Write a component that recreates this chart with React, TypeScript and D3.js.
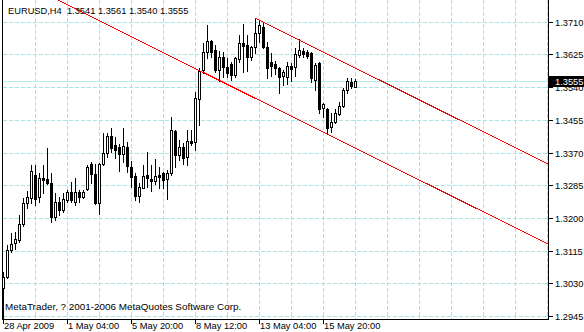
import React from "react";
import * as d3 from "d3";

const opens = [
  1.3017, 1.3046, 1.3117, 1.3134, 1.3143, 1.3184, 1.3240, 1.3251, 1.3312, 1.3255,
  1.3303, 1.3300, 1.3290, 1.3203, 1.3242, 1.3221, 1.3247, 1.3268, 1.3242, 1.3268,
  1.3255, 1.3274, 1.3339, 1.3314, 1.3240, 1.3339, 1.3368, 1.3413, 1.3390, 1.3383,
  1.3365, 1.3384, 1.3333, 1.3310, 1.3258, 1.3279, 1.3312, 1.3301, 1.3297, 1.3312,
  1.3316, 1.3301, 1.3316, 1.3426, 1.3364, 1.3383, 1.3359, 1.3400, 1.3398, 1.3508,
  1.3585, 1.3631, 1.3660, 1.3637, 1.3585, 1.3619, 1.3593, 1.3599, 1.3572, 1.3612,
  1.3654, 1.3650, 1.3617, 1.3643, 1.3680, 1.3697, 1.3645, 1.3604, 1.3599, 1.3589,
  1.3568, 1.3567, 1.3594, 1.3593, 1.3623, 1.3635, 1.3630, 1.3629, 1.3558, 1.3602,
  1.3485, 1.3482, 1.3437, 1.3450, 1.3470, 1.3490, 1.3532, 1.3554, 1.3541,
];
const highs = [
  1.3060, 1.3130, 1.3161, 1.3164, 1.3208, 1.3252, 1.3271, 1.3337, 1.3338, 1.3316,
  1.3338, 1.3381, 1.3318, 1.3264, 1.3255, 1.3264, 1.3273, 1.3294, 1.3303, 1.3273,
  1.3273, 1.3338, 1.3345, 1.3340, 1.3342, 1.3420, 1.3420, 1.3433, 1.3411, 1.3391,
  1.3433, 1.3397, 1.3348, 1.3316, 1.3290, 1.3338, 1.3372, 1.3338, 1.3353, 1.3333,
  1.3320, 1.3325, 1.3463, 1.3429, 1.3403, 1.3394, 1.3429, 1.3429, 1.3527, 1.3589,
  1.3654, 1.3702, 1.3663, 1.3650, 1.3634, 1.3632, 1.3615, 1.3606, 1.3619, 1.3676,
  1.3703, 1.3676, 1.3648, 1.3719, 1.3715, 1.3706, 1.3657, 1.3628, 1.3607, 1.3593,
  1.3584, 1.3606, 1.3603, 1.3641, 1.3664, 1.3641, 1.3636, 1.3632, 1.3602, 1.3606,
  1.3499, 1.3485, 1.3472, 1.3482, 1.3502, 1.3537, 1.3563, 1.3563, 1.3561,
];
const lows = [
  1.2929, 1.3044, 1.3112, 1.3119, 1.3138, 1.3178, 1.3226, 1.3239, 1.3234, 1.3242,
  1.3264, 1.3289, 1.3190, 1.3195, 1.3208, 1.3216, 1.3242, 1.3242, 1.3234, 1.3242,
  1.3251, 1.3273, 1.3290, 1.3236, 1.3209, 1.3338, 1.3359, 1.3372, 1.3355, 1.3322,
  1.3346, 1.3320, 1.3281, 1.3247, 1.3242, 1.3277, 1.3281, 1.3270, 1.3287, 1.3277,
  1.3277, 1.3249, 1.3312, 1.3333, 1.3351, 1.3339, 1.3338, 1.3390, 1.3377, 1.3442,
  1.3576, 1.3615, 1.3619, 1.3580, 1.3556, 1.3567, 1.3567, 1.3559, 1.3567, 1.3606,
  1.3580, 1.3582, 1.3611, 1.3628, 1.3658, 1.3641, 1.3563, 1.3568, 1.3573, 1.3525,
  1.3545, 1.3548, 1.3556, 1.3568, 1.3619, 1.3619, 1.3615, 1.3554, 1.3532, 1.3472,
  1.3463, 1.3418, 1.3424, 1.3446, 1.3467, 1.3489, 1.3524, 1.3537, 1.3540,
];
const closes = [
  1.3047, 1.3117, 1.3132, 1.3144, 1.3184, 1.3240, 1.3254, 1.3321, 1.3248, 1.3303,
  1.3299, 1.3290, 1.3203, 1.3242, 1.3221, 1.3248, 1.3268, 1.3247, 1.3268, 1.3255,
  1.3268, 1.3333, 1.3313, 1.3240, 1.3339, 1.3368, 1.3413, 1.3381, 1.3377, 1.3365,
  1.3388, 1.3335, 1.3307, 1.3258, 1.3281, 1.3310, 1.3303, 1.3297, 1.3309, 1.3307,
  1.3299, 1.3316, 1.3429, 1.3364, 1.3383, 1.3357, 1.3400, 1.3394, 1.3511, 1.3582,
  1.3632, 1.3660, 1.3632, 1.3585, 1.3619, 1.3593, 1.3576, 1.3572, 1.3615, 1.3654,
  1.3648, 1.3617, 1.3643, 1.3680, 1.3702, 1.3645, 1.3590, 1.3596, 1.3589, 1.3567,
  1.3580, 1.3594, 1.3588, 1.3626, 1.3636, 1.3626, 1.3622, 1.3563, 1.3597, 1.3482,
  1.3496, 1.3433, 1.3450, 1.3472, 1.3490, 1.3532, 1.3555, 1.3542, 1.3555,
];

const priceTicks = [1.2945, 1.3030, 1.3115, 1.3200, 1.3285, 1.3370, 1.3455, 1.3540, 1.3625, 1.3710];
const timeLabels = ["28 Apr 2009", "1 May 04:00", "5 May 20:00", "8 May 12:00", "13 May 04:00", "15 May 20:00"];
const timeLabelBars = [0, 16, 32, 48, 64, 80];

// channel: lower line through two anchors, upper line parallel from its anchor
const channelLower = [
  [15.5, 1.3757],
  [81, 1.3418],
];
const channelUpperStart = [63, 1.3719];

const symbolTitle = "EURUSD,H4";
const bidPrice = 1.3555;
const copyright = "MetaTrader, ? 2001-2006 MetaQuotes Software Corp.";

const W = 584;
const H = 332;
const plotLeft = 2;
const plotRight = 548;
const plotBottom = 319;

const GRID = "#a8e4e4";
const BIDLINE = "#b2eeee";
const FONT = "'Liberation Sans', Arial, sans-serif";

export default function App() {
  const x = d3.scaleLinear().domain([0, 1]).range([3, 7]);
  const y = d3.scaleLinear().domain([1.2945, 1.371]).range([316, 21.7]);
  const ry = (p: number) => Math.round(y(p));

  const lastBar = Math.ceil(x.invert(plotRight));
  const gridBars = d3.range(8, lastBar, 8);

  const slope = (channelLower[1][1] - channelLower[0][1]) / (channelLower[1][0] - channelLower[0][0]);
  const lowerAt = (b: number) => channelLower[1][1] + slope * (b - channelLower[1][0]);
  const upperAt = (b: number) => channelUpperStart[1] + slope * (b - channelUpperStart[0]);
  const endBar = lastBar + 2;

  const candles = opens.map((o, i) => {
    const c = closes[i];
    const hi = highs[i];
    const lo = lows[i];
    const cx = x(i);
    const top = ry(Math.max(o, c));
    const bot = ry(Math.min(o, c));
    const wt = ry(hi);
    const wb = ry(lo);
    const bull = c >= o;
    return (
      <g key={i}>
        <rect x={cx} y={wt} width={1} height={wb - wt + 1} fill="#000" />
        <rect x={cx - 1} y={top} width={3} height={bot - top + 1} fill="#000" />
        {bull && bot - top > 1 && (
          <rect x={cx} y={top + 1} width={1} height={bot - top - 1} fill="#fff" />
        )}
      </g>
    );
  });

  const bidY = ry(bidPrice) + 0.5;

  return (
    <svg
      width={W}
      height={H}
      style={{ position: "absolute", left: 0, top: 0, background: "#fff" }}
      shapeRendering="crispEdges"
    >
      <defs>
        <clipPath id="plot">
          <rect x={plotLeft + 1} y={0} width={plotRight - plotLeft - 1} height={plotBottom} />
        </clipPath>
      </defs>
      <rect x={0} y={0} width={W} height={H} fill="#fff" />

      {/* grid */}
      <g stroke={GRID} strokeWidth={1} strokeDasharray="4,2">
        {priceTicks.map((p) => (
          <line key={p} x1={plotLeft + 1} x2={plotRight} y1={ry(p) + 0.5} y2={ry(p) + 0.5} />
        ))}
        {gridBars.map((b) => (
          <line key={b} x1={x(b) + 0.5} x2={x(b) + 0.5} y1={0} y2={plotBottom} />
        ))}
      </g>

      {/* bid line */}
      <line x1={plotLeft + 1} x2={plotRight} y1={bidY} y2={bidY} stroke={BIDLINE} strokeWidth={1} />

      <g clipPath="url(#plot)">{candles}</g>

      {/* channel */}
      <g clipPath="url(#plot)" stroke="#ff0000" strokeWidth={1} fill="none" shapeRendering="crispEdges">
        <line x1={x(channelLower[0][0] - 20)} y1={y(lowerAt(channelLower[0][0] - 20))} x2={x(endBar)} y2={y(lowerAt(endBar))} />
        <line x1={x(channelUpperStart[0]) + 0.5} y1={y(upperAt(channelUpperStart[0]))} x2={x(endBar)} y2={y(upperAt(endBar))} />
      </g>

      {/* frame */}
      <line x1={plotLeft + 0.5} x2={plotLeft + 0.5} y1={0} y2={plotBottom + 1} stroke="#000" />
      <line x1={plotRight + 0.5} x2={plotRight + 0.5} y1={0} y2={plotBottom + 1} stroke="#000" />
      <line x1={plotLeft} x2={plotRight + 1} y1={plotBottom + 0.5} y2={plotBottom + 0.5} stroke="#000" />

      {/* right axis */}
      <g fontFamily={FONT} fontSize={9.3} fill="#000">
        {priceTicks.map((p) => (
          <g key={p}>
            <line x1={plotRight + 1} x2={plotRight + 5} y1={ry(p) + 0.5} y2={ry(p) + 0.5} stroke="#000" />
            <text x={555} y={ry(p) + 4}>{p.toFixed(4)}</text>
          </g>
        ))}
      </g>
      <rect x={plotRight + 1} y={ry(bidPrice) - 5} width={W - plotRight - 1} height={11} fill="#000" />
      <text x={555} y={ry(bidPrice) + 4} fontFamily={FONT} fontSize={9.3} fill="#fff">
        {bidPrice.toFixed(4)}
      </text>

      {/* bottom axis */}
      <g fontFamily={FONT} fontSize={9.3} fill="#000">
        {timeLabels.map((t, k) => (
          <g key={t}>
            <line x1={x(timeLabelBars[k]) + 0.5} x2={x(timeLabelBars[k]) + 0.5} y1={plotBottom} y2={plotBottom + 5} stroke="#000" />
            <text x={x(timeLabelBars[k]) + 1} y={329}>{t}</text>
          </g>
        ))}
      </g>

      {/* title */}
      <text x={8} y={14} fontFamily={FONT} fontSize={9.3} fill="#000" xmlSpace="preserve">
        {`${symbolTitle}  ${opens[opens.length - 1].toFixed(4)} ${highs[highs.length - 1].toFixed(4)} ${lows[lows.length - 1].toFixed(4)} ${closes[closes.length - 1].toFixed(4)}`}
      </text>
      <text x={5} y={310} fontFamily={FONT} fontSize={9.9} fill="#000">
        {copyright}
      </text>
    </svg>
  );
}
